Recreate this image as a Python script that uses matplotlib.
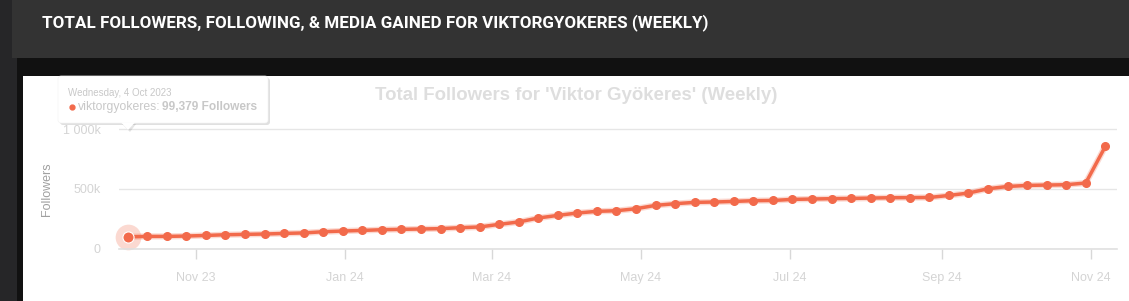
import matplotlib
matplotlib.use("Agg")
import matplotlib.pyplot as plt
import matplotlib.dates as mdates
from matplotlib.patches import Rectangle, FancyBboxPatch, Polygon
import pandas as pd

# weekly-ish samples
dates = ["2023-10-04", "2023-10-12", "2023-10-20", "2023-10-28", "2023-11-05",
         "2023-11-13", "2023-11-21", "2023-11-29", "2023-12-07", "2023-12-15",
         "2023-12-23", "2023-12-31", "2024-01-08", "2024-01-16", "2024-01-24",
         "2024-02-01", "2024-02-09", "2024-02-17", "2024-02-25", "2024-03-04",
         "2024-03-12", "2024-03-20", "2024-03-28", "2024-04-05", "2024-04-13",
         "2024-04-21", "2024-04-29", "2024-05-07", "2024-05-15", "2024-05-23",
         "2024-05-31", "2024-06-08", "2024-06-16", "2024-06-24", "2024-07-02",
         "2024-07-10", "2024-07-18", "2024-07-26", "2024-08-03", "2024-08-11",
         "2024-08-19", "2024-08-27", "2024-09-04", "2024-09-12", "2024-09-20",
         "2024-09-28", "2024-10-06", "2024-10-14", "2024-10-22", "2024-10-30",
         "2024-11-07"]
followers = [99379, 103000, 103000, 106000, 111000, 117000, 120000, 123000, 128000, 132000,
             142000, 148000, 153000, 159000, 162000, 165000, 168000, 176000, 182000, 204000,
             224000, 257000, 279000, 299000, 313000, 318000, 335000, 363000, 377000, 388000,
             391000, 396000, 402000, 404000, 413000, 416000, 419000, 421000, 424000, 427000,
             428000, 429000, 446000, 466000, 502000, 521000, 530000, 533000, 536000, 550000,
             856000]

month_ticks = ["2023-11-01", "2024-01-01", "2024-03-01", "2024-05-01",
               "2024-07-01", "2024-09-01", "2024-11-01"]
month_labels = ["Nov 23", "Jan 24", "Mar 24", "May 24", "Jul 24", "Sep 24", "Nov 24"]
y_ticks = [0, 500000, 1000000]
y_labels = ["0", "500k", "1 000k"]

LINE = "#f26a4b"
W, H = 1129, 301

fig = plt.figure(figsize=(W / 100, H / 100), dpi=100)
fig.patch.set_facecolor("#262628")

# background layer in pixel coords
bg = fig.add_axes([0, 0, 1, 1], zorder=0)
bg.set_xlim(0, W)
bg.set_ylim(H, 0)
bg.axis("off")
bg.add_patch(Rectangle((12, 0), W - 12, 58, color="#333333", lw=0))
bg.add_patch(Rectangle((17, 58), W - 17, H - 58, color="#111111", lw=0))
bg.add_patch(Rectangle((23, 76), W - 23, H - 76, color="white", lw=0))
bg.text(42, 23, "TOTAL FOLLOWERS, FOLLOWING, & MEDIA GAINED FOR VIKTORGYOKERES (WEEKLY)",
        color="white", fontsize=12.25, fontweight="bold", family="Roboto",
        va="center", ha="left")
bg.text(576, 96, "Total Followers for 'Viktor Gyökeres' (Weekly)", color="#dedede",
        fontsize=13.4, fontweight="bold", family="Liberation Sans", ha="center", va="center")
bg.text(47, 189, "Followers", color="#a0a0a0", fontsize=9, family="Liberation Sans",
        rotation=90, ha="center", va="center")

# chart axes
px_per_unit = 119.4 / 1e6
y_top = 1.1e6
ax_bottom = 248.7
ax_top = ax_bottom - y_top * px_per_unit
ax = fig.add_axes([119 / W, (H - ax_bottom) / H, (1117 - 119) / W, (ax_bottom - ax_top) / H], zorder=1)
ax.set_facecolor("none")

x = pd.to_datetime(dates)
x0 = mdates.date2num(pd.Timestamp("2023-10-04")) - 3.56
x1 = mdates.date2num(pd.Timestamp("2023-10-04")) + 404.8
ax.set_xlim(x0, x1)
ax.set_ylim(0, y_top)

ax.plot(x, followers, color=LINE, lw=4.5, alpha=0.25, solid_capstyle="round", clip_on=False)
ax.plot(x, followers, color=LINE, lw=2.5, marker="o", markersize=5.5, clip_on=False, zorder=3)
# hovered point
ax.plot(x[:1], followers[:1], "o", color=LINE, markersize=18.5, alpha=0.25, mew=0, clip_on=False, zorder=2)
ax.plot(x[:1], followers[:1], "o", color=LINE, markersize=8, mec="white", mew=0.8, clip_on=False, zorder=4)

ax.set_yticks(y_ticks)
ax.set_yticklabels(y_labels)
ax.set_xticks(pd.to_datetime(month_ticks))
ax.set_xticklabels(month_labels)
ax.grid(axis="y", color="#e6e6e6", lw=1)
ax.set_axisbelow(True)
for s in ["top", "right", "left"]:
    ax.spines[s].set_visible(False)
ax.spines["bottom"].set_color("#e0e0e0")
ax.spines["bottom"].set_linewidth(1.2)
ax.tick_params(axis="x", length=7, width=1, color="#d8d8d8", pad=10,
               labelcolor="#d4d4d4", labelsize=9)
ax.tick_params(axis="y", length=0, pad=13, labelcolor="#d4d4d4", labelsize=9)
for lab in ax.get_xticklabels() + ax.get_yticklabels():
    lab.set_family("Liberation Sans")

# tooltip on top
fg = fig.add_axes([0, 0, 1, 1], zorder=5)
fg.set_xlim(0, W)
fg.set_ylim(H, 0)
fg.axis("off")
shadow = FancyBboxPatch((60, 78), 210, 47, boxstyle="round,pad=0,rounding_size=3",
                        fc="#000000", alpha=0.12, lw=0)
fg.add_patch(shadow)
fg.add_patch(Polygon([[122, 124], [136, 124], [130, 132]], closed=True, fc="#000000", alpha=0.1, lw=0))
fg.add_patch(FancyBboxPatch((58, 76), 210, 47, boxstyle="round,pad=0,rounding_size=3",
                            fc="white", ec="#f4f4f4", lw=0.5))
fg.add_patch(Polygon([[121, 122.5], [135, 122.5], [128, 130]], closed=True, fc="white", lw=0))
fg.text(68, 93, "Wednesday, 4 Oct 2023", color="#c8c8c8", fontsize=7,
        family="Liberation Sans", va="center", ha="left")
fg.plot([71.5], [107], "o", color=LINE, markersize=3.5)
fg.text(78, 107, "viktorgyokeres:", color="#c8c8c8", fontsize=8.8,
        family="Liberation Sans", va="center", ha="left")
fg.text(162, 107, "99,379 Followers", color="#c8c8c8", fontsize=8.6, fontweight="bold",
        family="Liberation Sans", va="center", ha="left")

fig.savefig("out.png", dpi=100, facecolor=fig.get_facecolor())
